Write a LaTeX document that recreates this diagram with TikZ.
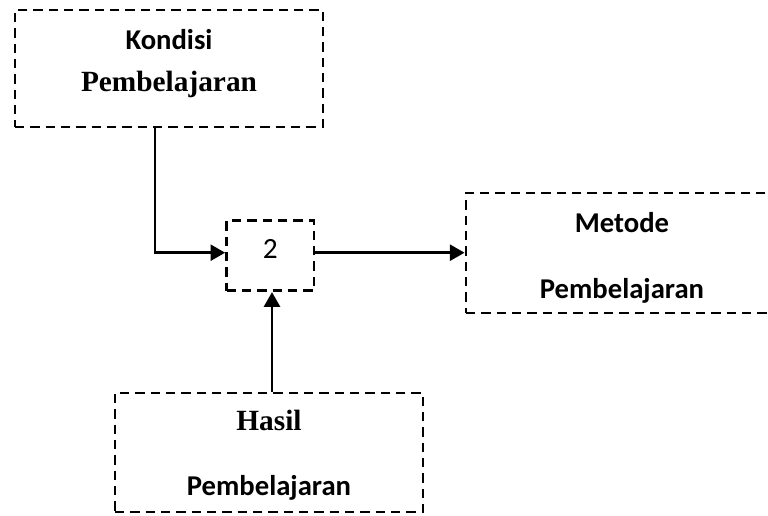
\documentclass[tikz,border=0pt]{standalone}
\usepackage{fontspec}
\setmainfont{Liberation Serif}
\setsansfont{Carlito}
\usepackage{tikz}
\usetikzlibrary{positioning}
\usetikzlibrary{arrows.meta}

\begin{document}
\begin{tikzpicture}[x=0.75pt,y=-0.75pt,
  kotak/.style={draw,line width=2.2pt,dash pattern=on 7pt off 4.5pt,align=center,inner sep=0pt},
  panah/.style={line width=2pt,-{Triangle[length=11pt,width=12pt]}},
  huruf/.style={font=\fontsize{21.5}{#1}\selectfont\bfseries\sffamily}]
\useasboundingbox (0,0) rectangle (768,515);
\node[kotak,huruf=31.5pt,minimum width=231pt,minimum height=87.75pt,text height=40pt,text depth=6.25pt] at(169,68.5)(kondisi) {Kondisi\\{\rmfamily\fontsize{22}{26}\selectfont Pembelajaran}};
\node[kotak,font=\fontsize{22}{26}\selectfont\sffamily,minimum width=65.5pt,minimum height=52.5pt,text height=10pt,text depth=6.5pt] at(270.3,255.7)(dua) {2};
\node[kotak,huruf=49.5pt,minimum width=234pt,minimum height=90pt,text height=72pt,text depth=4.5pt] at(622,253)(metode) {Metode\\Pembelajaran};
\node[kotak,huruf=48.75pt,minimum width=231pt,minimum height=89.25pt,text height=68pt,text depth=4.25pt] at(269,452.5)(hasil) {{\rmfamily\fontsize{22}{26}\selectfont Hasil}\\Pembelajaran};
\coordinate (belok) at (155,252.7);
\coordinate (naik) at (272,340);
\draw[panah] (kondisi.south -| belok) -- (belok) -- (belok -| dua.west);
\draw[panah] (dua.east |- belok) -- (belok -| metode.west);
\draw[panah] (hasil.north -| naik) -- (dua.south -| naik);
\end{tikzpicture}
\end{document}
